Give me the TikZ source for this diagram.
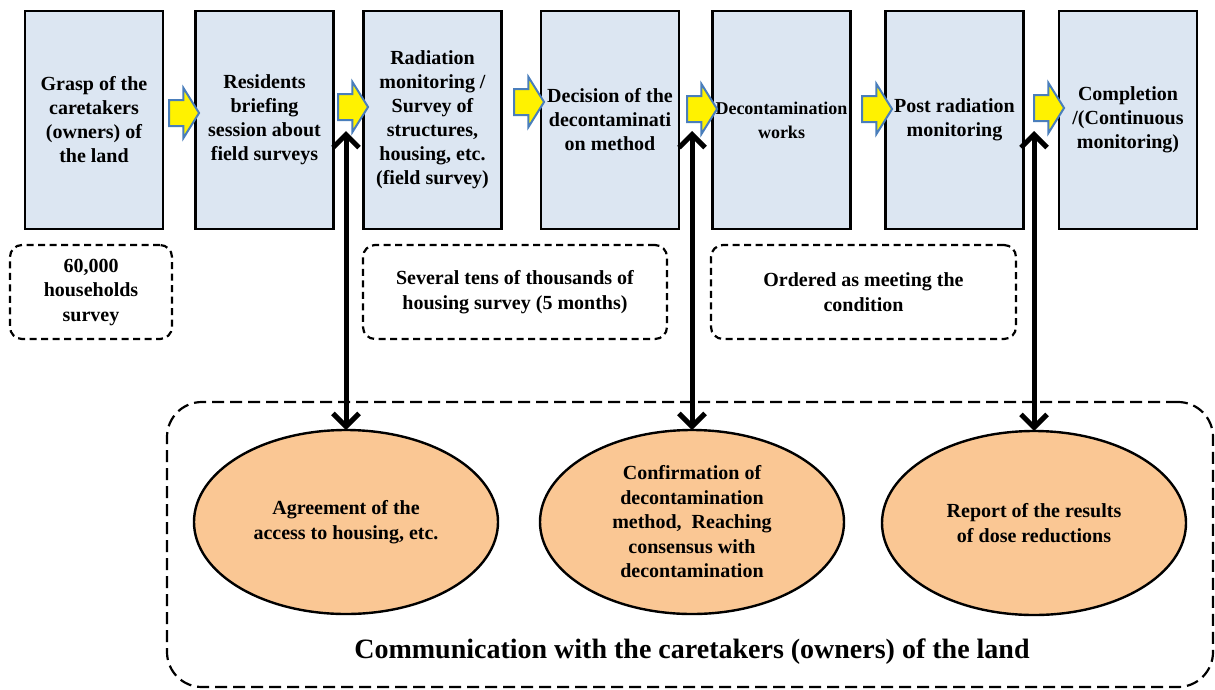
\documentclass[tikz,border=0pt]{standalone}
\usepackage{fontspec}
\setmainfont{Liberation Serif}
\usetikzlibrary{shapes.geometric,shapes.arrows,arrows.meta}
\definecolor{boxblue}{HTML}{DCE6F2}
\definecolor{peach}{HTML}{FAC794}
\definecolor{arrowedge}{HTML}{4A7EBB}
\begin{document}
\begin{tikzpicture}[x=1pt,y=-1pt,
  stepbox/.style={draw=black, line width=2.6pt, fill=boxblue, minimum width=138pt, minimum height=218pt, inner sep=1pt, outer sep=0pt, align=center, font=\fontsize{20}{24}\selectfont\bfseries},
  flowarrow/.style={single arrow, draw=arrowedge, line width=2pt, fill=yellow, minimum height=30pt, single arrow head extend=12pt, inner xsep=0pt, inner ysep=12pt, single arrow tip angle=116, outer sep=0pt},
  notebox/.style={draw, line width=2.2pt, dash pattern=on 7pt off 4.5pt, rounded corners=12pt, minimum height=94pt, inner sep=0pt, align=center, font=\fontsize{20}{24.5}\selectfont\bfseries},
  bubble/.style={ellipse, draw, line width=2.4pt, fill=peach, minimum width=304pt, minimum height=184pt, inner sep=0pt, outer sep=0pt, align=center, font=\fontsize{20}{24.5}\selectfont\bfseries},
  groupbox/.style={draw, line width=2.2pt, dash pattern=on 12pt off 6pt, rounded corners=35pt, minimum width=1046pt, minimum height=285pt, inner sep=0pt},
  dbl/.style={line width=5pt, {Straight Barb[length=13pt,width=26pt]}-{Straight Barb[length=13pt,width=26pt]}}
]
\useasboundingbox (0,0) rectangle (1215,689);

% process boxes
\node[stepbox] (b1) at (94,120) {Grasp of the\\caretakers\\(owners) of\\the land};
\node[stepbox] (b2) at (264.5,120) {Residents\\briefing\\session about\\field surveys};
\node[stepbox] (b3) at (432.5,120) {Radiation\\monitoring /\\Survey of\\structures,\\housing, etc.\\(field survey)};
\node[stepbox] (b4) at (610,120) {Decision of the\\decontaminati\\on method};
\node[stepbox, font=\fontsize{18}{24}\selectfont\bfseries] (b5) at (781.5,120) {Decontamination\\works};
\node[stepbox] (b6) at (954.5,120) {Post radiation\\monitoring};
\node[stepbox] (b7) at (1128,120) {Completion\\/(Continuous\\monitoring)};

% yellow flow arrows
\node[flowarrow] (ya1) at (180,113) {};
\node[flowarrow] (ya2) at (349,107) {};
\node[flowarrow] (ya3) at (525,102) {};
\node[flowarrow] (ya4) at (698,109) {};
\node[flowarrow] (ya5) at (873,109) {};
\node[flowarrow] (ya6) at (1045,108) {};

% notes
\node[notebox, minimum width=162pt] (n1) at (91,292) {60,000\\households\\survey};
\node[notebox, minimum width=304pt] (n2) at (515,292) {Several tens of thousands of\\housing survey (5 months)};
\node[notebox, minimum width=305pt] (n3) at (863.5,292) {Ordered as meeting the\\condition};

% communication group
\node[groupbox] (grp) at (690,544.5) {};
\node[bubble] (e1) at (346,522) {Agreement of the\\access to housing, etc.};
\node[bubble] (e2) at (692,522) {Confirmation of\\decontamination\\method,\ \ Reaching\\consensus with\\decontamination};
\node[bubble] (e3) at (1034,523) {Report of the results\\of dose reductions};
\node[font=\fontsize{28}{32}\selectfont\bfseries] (title) at (692,652) {Communication with the caretakers (owners) of the land};

% double arrows
\coordinate (t1) at (346,131);
\coordinate (t2) at (692,131);
\coordinate (t3) at (1034,131);
\draw[dbl] (t1) -- (e1.north);
\draw[dbl] (t2) -- (e2.north);
\draw[dbl] (t3) -- (e3.north);
\end{tikzpicture}
\end{document}
